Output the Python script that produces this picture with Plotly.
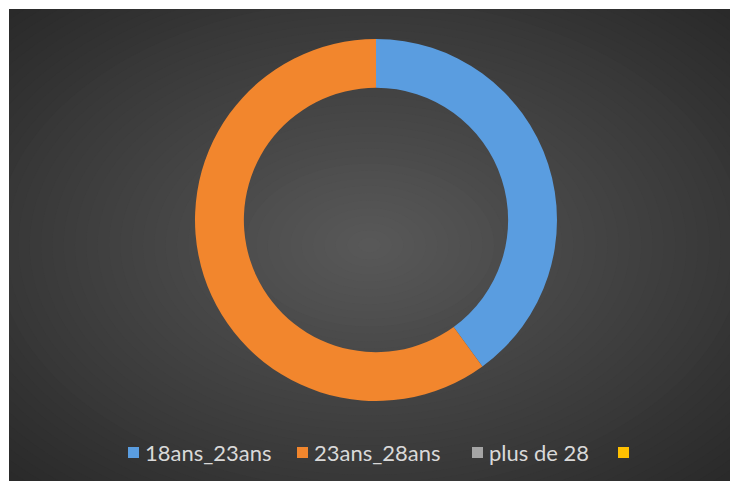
import plotly.graph_objects as go

# Data
labels = ["18ans_23ans", "23ans_28ans", "plus de 28", ""]
values = [40, 60, 0, 0]
colors = ["#5a9de0", "#f2862d", "#a5a5a5", "#ffc000"]

W, H = 730, 481
FONT = "Lato, 'Open Sans', sans-serif"
BORDER = 9  # white strip left and top

# donut center and outer radius in figure pixels
dcx, dcy, R = 376, 220, 181

fig = go.Figure(go.Pie(
    labels=labels,
    values=values,
    hole=0.73,
    sort=False,
    direction="clockwise",
    rotation=0,
    textinfo="none",
    marker=dict(colors=colors, line=dict(width=0)),
    domain=dict(x=[(dcx - R) / W, (dcx + R) / W],
                y=[1 - (dcy + R) / H, 1 - (dcy - R) / H]),
    showlegend=False,
))

shapes = []

# dark chart area with a radial gradient (stepped ellipses)
cx, cy = (W + BORDER) / 2, (H + BORDER) / 2
hw, hh = (W - BORDER) / 2 * 1.414, (H - BORDER) / 2 * 1.414
n_steps = 45
c_out, c_in = 42, 89
for i in range(n_steps):
    t = 1 - i / n_steps
    c = round(c_out + (c_in - c_out) * (1 - t))
    a, b = hw * t, hh * t
    shapes.append(dict(
        type="circle", xref="paper", yref="paper", layer="below",
        x0=(cx - a) / W, x1=(cx + a) / W,
        y0=1 - (cy + b) / H, y1=1 - (cy - b) / H,
        fillcolor=f"rgb({c},{c},{c})", line=dict(width=0),
    ))

# white border strips (left and top)
shapes.append(dict(type="rect", xref="paper", yref="paper", layer="below",
                   x0=-0.01, x1=BORDER / W, y0=-0.01, y1=1.01,
                   fillcolor="white", line=dict(width=0)))
shapes.append(dict(type="rect", xref="paper", yref="paper", layer="below",
                   x0=-0.01, x1=1.01, y0=1 - BORDER / H, y1=1.01,
                   fillcolor="white", line=dict(width=0)))

# custom legend
legend_x = [128, 297, 472, 618]
sq = 11
ly = 452.5
annotations = []
for lab, col, x in zip(labels, colors, legend_x):
    shapes.append(dict(
        type="rect", xref="paper", yref="paper",
        x0=x / W, x1=(x + sq) / W,
        y0=1 - (ly + sq / 2) / H, y1=1 - (ly - sq / 2) / H,
        fillcolor=col, line=dict(width=0),
    ))
    if lab:
        annotations.append(dict(
            x=(x + sq + 4) / W, y=1 - ly / H, xref="paper", yref="paper",
            text=lab, showarrow=False, xanchor="left", yanchor="middle",
            font=dict(family=FONT, size=22, color="#d9d9d9"),
        ))

fig.update_layout(
    width=W,
    height=H,
    margin=dict(l=0, r=0, t=0, b=0),
    paper_bgcolor="#2a2a2a",
    shapes=shapes,
    annotations=annotations,
)

fig.write_html("out.html",
               config={"displayModeBar": False},
               post_script="document.body.style.margin='0';"
                           "document.body.style.overflow='hidden';")
